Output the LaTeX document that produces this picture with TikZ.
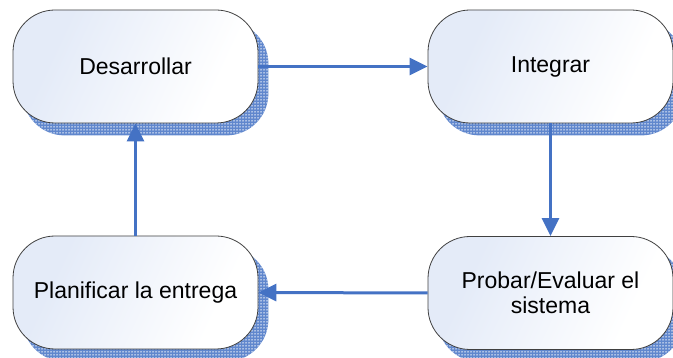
\documentclass[tikz,border=0pt]{standalone}
\usepackage{fontspec}
\setmainfont{Liberation Sans}
\usetikzlibrary{arrows.meta,patterns.meta,backgrounds}

\definecolor{flowblue}{RGB}{68,114,196}
\definecolor{boxtint}{RGB}{228,235,248}
\definecolor{boxline}{RGB}{64,64,64}

% soft diagonal tint: blue-grey at the upper left fading to white
\pgfdeclarehorizontalshading{boxfade}{100bp}{
  color(0bp)=(boxtint); color(30bp)=(boxtint);
  color(70bp)=(white); color(100bp)=(white)}

\tikzset{
  stage/.style={draw=boxline, line width=0.8pt, rounded corners=42pt,
    minimum width=245pt, minimum height=113pt, inner sep=0pt,
    shading=boxfade, shading angle=-25,
    align=center, font=\fontsize{23}{25.5}\selectfont},
  % blue drop shadow speckled with a fine white grid
  boxshadow/.style={rounded corners=42pt, fill=flowblue!85,
    postaction={pattern={Dots[distance=3pt,radius=0.75pt]},
      pattern color=white}},
  flow/.style={draw=flowblue, line width=3pt,
    -{Triangle[length=18pt,width=17pt]}}
}

\begin{document}
\begin{tikzpicture}[x=1pt,y=-1pt]
  \useasboundingbox (0,0) rectangle (673,358);

  \node[stage] (des) at (135.5,66.5) {Desarrollar};
  \node[stage] (int) at (550.5,66.5) {Integrar};
  \node[stage] (pla) at (135.5,292.5) {Planificar la entrega};
  \node[stage] (pro) at (550.5,293) {Probar/Evaluar el\\sistema};

  \begin{scope}[on background layer]
    \foreach \n in {des,int,pla,pro}
      \path[boxshadow] ([shift={(10,12)}]\n.north west)
        rectangle ([shift={(10,12)}]\n.south east);
  \end{scope}

  \draw[flow] (des.east) -- (int.west);
  \draw[flow] (int.south) -- (pro.north);
  \draw[flow] (pro.west) -- (pla.east);
  \draw[flow] (pla.north) -- (des.south);
\end{tikzpicture}
\end{document}
